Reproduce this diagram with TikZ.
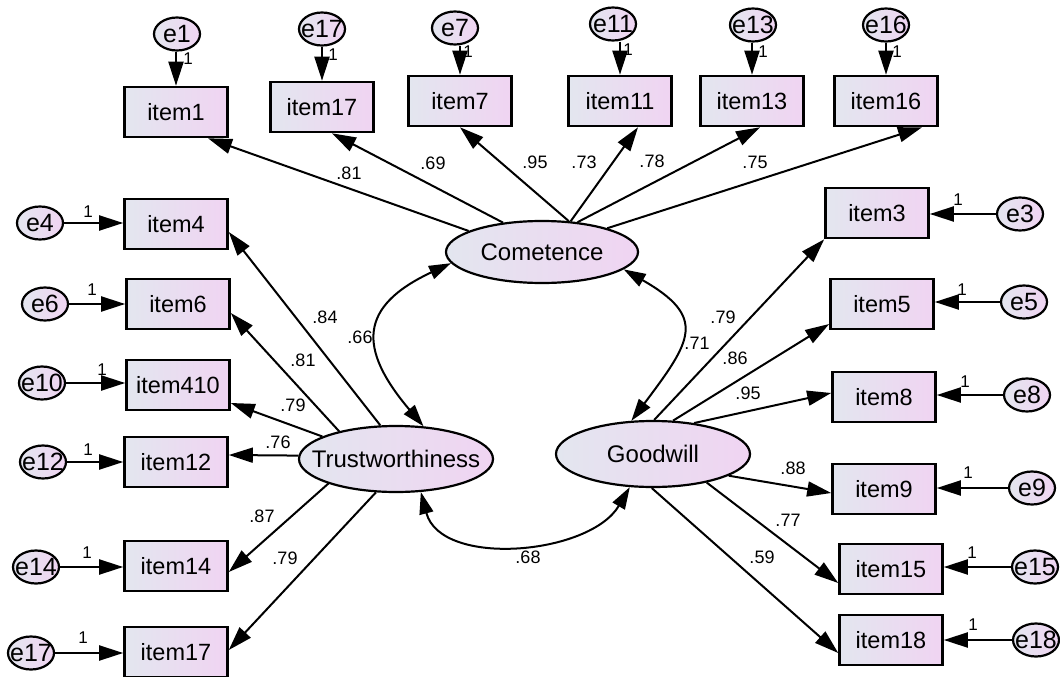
\documentclass[tikz,border=0pt]{standalone}
\usepackage{fontspec}
\setmainfont{Liberation Sans}
\usetikzlibrary{shapes.geometric,arrows.meta,calc}
\definecolor{gL}{HTML}{E3E6EF}
\definecolor{gR}{HTML}{F0D4F2}
\begin{document}
\begin{tikzpicture}[x=1pt,y=-1pt,
 box/.style={draw, line width=2.6pt, minimum width=103pt, minimum height=50pt, inner sep=0pt, left color=gL, right color=gR, font=\fontsize{23.5}{24}\selectfont},
 err/.style={ellipse, draw, line width=2.2pt, minimum width=46pt, minimum height=33pt, inner sep=0pt, left color=gL, right color=gR},
 latC/.style={ellipse, draw, line width=2.2pt, minimum width=192pt, minimum height=62pt, inner sep=0pt, left color=gL, right color=gR},
 latTG/.style={ellipse, draw, line width=2.2pt, minimum width=194pt, minimum height=66pt, inner sep=0pt, left color=gL, right color=gR},
 elab/.style={font=\fontsize{25}{25}\selectfont, inner sep=0pt},
 llab/.style={font=\fontsize{24}{24}\selectfont, inner sep=0pt},
 num/.style={font=\fontsize{18}{18}\selectfont, inner sep=0pt},
 one/.style={font=\fontsize{17}{17}\selectfont, inner sep=0pt},
 load/.style={line width=2pt, -{Triangle[length=24pt,width=15pt]}},
 eload/.style={line width=2pt, -{Triangle[length=24pt,width=15pt]}},
 cov/.style={line width=2pt, {Triangle[length=22pt,width=14pt]}-{Triangle[length=22pt,width=14pt]}},
]
\useasboundingbox[fill=white] (0,0) rectangle (1060,677);

% latent variables
\node[latC, label={[llab]center:Cometence}] (C) at (542,252) {};
\node[latTG, label={[llab]center:Trustworthiness}] (T) at (396,459) {};
\node[latTG, label={[llab]center:Goodwill}] (G) at (653,454) {};

% top row items
\node[box] (i1) at (176,112) {item1};
\node[box] (i17t) at (322,107) {item17};
\node[box] (i7) at (460,101) {item7};
\node[box] (i11) at (620,101) {item11};
\node[box] (i13) at (752,101) {item13};
\node[box] (i16) at (886,101) {item16};

% top errors
\node[err, label={[elab]center:e1}] (e1) at (177,34) {};
\node[err, label={[elab]center:e17}] (e17t) at (322,29) {};
\node[err, label={[elab]center:e7}] (e7) at (455,28) {};
\node[err, label={[elab]center:e11}] (e11) at (613,24) {};
\node[err, label={[elab]center:e13}] (e13) at (753,25) {};
\node[err, label={[elab]center:e16}] (e16) at (886,25) {};

% left items
\node[box] (i4) at (176,224) {item4};
\node[box] (i6) at (178,304) {item6};
\node[box] (i410) at (178,385) {item410};
\node[box] (i12) at (176,462) {item12};
\node[box] (i14) at (176,566) {item14};
\node[box] (i17b) at (176,652) {item17};

% left errors
\node[err, label={[elab]center:e4}] (e4) at (40,223) {};
\node[err, label={[elab]center:e6}] (e6) at (45,304) {};
\node[err, label={[elab]center:e10}] (e10) at (42,383) {};
\node[err, label={[elab]center:e12}] (e12) at (43,462) {};
\node[err, label={[elab]center:e14}] (e14) at (36,567) {};
\node[err, label={[elab]center:e17}] (e17b) at (31,653) {};

% right items
\node[box] (i3) at (877,213) {item3};
\node[box] (i5) at (882,304) {item5};
\node[box] (i8) at (884,397) {item8};
\node[box] (i9) at (884,489) {item9};
\node[box] (i15) at (891,569) {item15};
\node[box] (i18) at (891,640) {item18};

% right errors
\node[err, label={[elab]center:e3}] (e3) at (1020,214) {};
\node[err, label={[elab]center:e5}] (e5) at (1024,302) {};
\node[err, label={[elab]center:e8}] (e8) at (1027,395) {};
\node[err, label={[elab]center:e9}] (e9) at (1032,488) {};
\node[err, label={[elab]center:e15}] (e15) at (1035,567) {};
\node[err, label={[elab]center:e18}] (e18) at (1036,640) {};

% loadings: Cometence
\draw[load] (C.164) -- ($(i1.south)+(32,0)$);
\draw[load] (C.143) -- ($(i17t.south)+(10,0)$);
\draw[load] (C.49) -- (i7.south);
\draw[load] (C.47) -- ($(i11.south)+(18,0)$);
\draw[load] (C.40) -- ($(i13.south)+(8,0)$);
\draw[load] (C.20) -- ($(i16.south)+(36,0)$);

% loadings: Trustworthiness
\draw[load] (T.115) -- ($(i4.east)+(0,8)$);
\draw[load] (T.154) -- ($(i6.east)+(0,9)$);
\draw[load] (T.163) -- ($(i410.east)+(0,18)$);
\draw[load] (T.178) -- ($(i12.east)+(0,-7)$);
\draw[load] (T.200) -- ($(i14.east)+(0,6)$);
\draw[load] (T.239) -- ($(i17b.east)+(0,-2)$);

% loadings: Goodwill
\draw[load] (G.88) -- (i3.south west);
\draw[load] (G.59) -- ($(i5.west)+(0,20)$);
\draw[load] (G.37) -- ($(i8.west)+(0,-4)$);
\draw[load] (G.344) -- ($(i9.west)+(0,4)$);
\draw[load] (G.332) -- ($(i15.west)+(0,14)$);
\draw[load] (G.268) -- ($(i18.west)+(0,13)$);

% covariances
\draw[cov] (C.187) .. controls ($(C.187)+(-92,43)$) and ($(T.50)+(-66,-78)$) .. (T.50);
\draw[cov] (C.-12) .. controls ($(C.-12)+(84,48)$) and ($(G.123)+(60,-80)$) .. (G.123);
\draw[cov] (T.-53) .. controls ($(T.-53)+(20,76)$) and ($(G.235)+(-40,68)$) .. (G.235);

% error arrows top
\draw[eload] (i1.north |- e1.south) -- (i1.north);
\draw[eload] (i17t.north |- e17t.south) -- (i17t.north);
\draw[eload] (i7.north |- e7.south) -- (i7.north);
\draw[eload] (i11.north |- e11.south) -- (i11.north);
\draw[eload] (i13.north |- e13.south) -- (i13.north);
\draw[eload] (i16.north |- e16.south) -- (i16.north);

% error arrows left
\draw[eload] (e4.east) -- (e4.east -| i4.west);
\draw[eload] (e6.east) -- (e6.east -| i6.west);
\draw[eload] (e10.east) -- (e10.east -| i410.west);
\draw[eload] (e12.east) -- (e12.east -| i12.west);
\draw[eload] (e14.east) -- (e14.east -| i14.west);
\draw[eload] (e17b.east) -- (e17b.east -| i17b.west);

% error arrows right
\draw[eload] (e3.west) -- (e3.west -| i3.east);
\draw[eload] (e5.west) -- (e5.west -| i5.east);
\draw[eload] (e8.west) -- (e8.west -| i8.east);
\draw[eload] (e9.west) -- (e9.west -| i9.east);
\draw[eload] (e15.west) -- (e15.west -| i15.east);
\draw[eload] (e18.west) -- (e18.west -| i18.east);

% "1" labels
\node[one] (o1) at (188,59) {1};
\node[one] (o17t) at (333,55) {1};
\node[one] (o7) at (468,52) {1};
\node[one] (o11) at (628,50) {1};
\node[one] (o13) at (763,52) {1};
\node[one] (o16) at (897,52) {1};
\node[one] (o4) at (88,212) {1};
\node[one] (o6) at (92,290) {1};
\node[one] (o10) at (102,370) {1};
\node[one] (o12) at (88,450) {1};
\node[one] (o14) at (87,553) {1};
\node[one] (o17b) at (83,638) {1};
\node[one] (o3) at (958,200) {1};
\node[one] (o5) at (962,290) {1};
\node[one] (o8) at (965,382) {1};
\node[one] (o9) at (968,473) {1};
\node[one] (o15) at (972,553) {1};
\node[one] (o18) at (973,625) {1};

% loading values
\node[num] (n1) at (349,173) {.81};
\node[num] (n17t) at (433,163) {.69};
\node[num] (n7) at (535,162) {.95};
\node[num] (n11) at (584,162) {.73};
\node[num] (n13) at (652,161) {.78};
\node[num] (n16) at (755,162) {.75};
\node[num] (n4) at (325,317) {.84};
\node[num] (n6) at (303,360) {.81};
\node[num] (n410) at (293,405) {.79};
\node[num] (n12) at (278,442) {.76};
\node[num] (n14) at (262,516) {.87};
\node[num] (n17b) at (285,558) {.79};
\node[num] (n3) at (723,317) {.79};
\node[num] (n5) at (735,358) {.86};
\node[num] (n8) at (748,393) {.95};
\node[num] (n9) at (793,468) {.88};
\node[num] (n15) at (788,520) {.77};
\node[num] (n18) at (762,557) {.59};
\node[num] (nCT) at (360,337) {.66};
\node[num] (nCG) at (697,343) {.71};
\node[num] (nTG) at (528,557) {.68};
\end{tikzpicture}
\end{document}
